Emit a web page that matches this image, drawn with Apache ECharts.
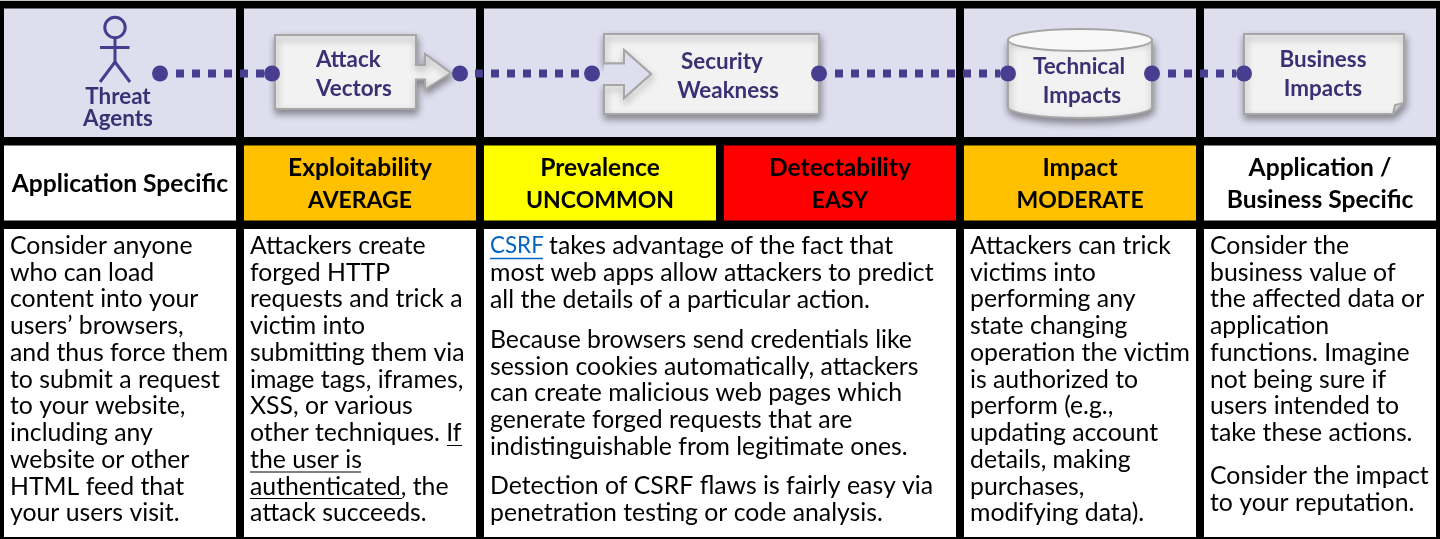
<!DOCTYPE html>
<html>
<head>
    <meta charset="utf-8" />
    <title>CSRF risk</title>
    <script src="https://cdn.jsdelivr.net/npm/echarts@6/dist/echarts.min.js"></script>
    <style>
        html, body { margin: 0; padding: 0; background: #000; }
        #chart { width: 1440px; height: 539px; }
    </style>
</head>
<body>
    <div id="chart"></div>
    <script>
        // text of the table
        const stageLabels = [['Threat', 'Agents'], ['Attack', 'Vectors'], ['Security', 'Weakness'], ['Technical', 'Impacts'], ['Business', 'Impacts']];
        const ratingLabels = [
            ['Application Specific'],
            ['Exploitability', 'AVERAGE'],
            ['Prevalence', 'UNCOMMON'],
            ['Detectability', 'EASY'],
            ['Impact', 'MODERATE'],
            ['Application /', 'Business Specific']
        ];
        const threatText = ['Consider anyone', 'who can load', 'content into your', 'users\u2019 browsers,', 'and thus force them', 'to submit a request', 'to your website,', 'including any', 'website or other', 'HTML feed that', 'your users visit.'];
        const attackText = ['Attackers create', 'forged HTTP', 'requests and trick a', 'victim into', 'submitting them via', 'image tags, iframes,', 'XSS, or various', 'other techniques. If', 'the user is', 'authenticated, the', 'attack succeeds.'];
        const weaknessP1 = ['CSRF', 'most web apps allow attackers to predict', 'all the details of a particular action.'];
        const weaknessP2 = ['Because browsers send credentials like', 'session cookies automatically, attackers', 'can create malicious web pages which', 'generate forged requests that are', 'indistinguishable from legitimate ones.'];
        const weaknessP3 = ['Detection of CSRF flaws is fairly easy via', 'penetration testing or code analysis.'];
        const csrfRest = 'takes advantage of the fact that';
        const impactText = ['Attackers can trick', 'victims into', 'performing any', 'state changing', 'operation the victim', 'is authorized to', 'perform (e.g.,', 'updating account', 'details, making', 'purchases,', 'modifying data).'];
        const businessP1 = ['Consider the', 'business value of', 'the affected data or', 'application', 'functions. Imagine', 'not being sure if', 'users intended to', 'take these actions.'];
        const businessP2 = ['Consider the impact', 'to your reputation.'];

        // connector end points on the pixel axes
        const connectors = [[176, 264], [475, 584], [835, 1000], [1168, 1236]];
        const dots = [160, 272, 460, 592, 819, 1008, 1152, 1244];

        // layout
        const W = 1440, H = 539;
        const bodyFont = 24.8, headFont = 24.6, capsFont = 23, stageFont = 22.4;
        const lineH = 26.75;
        const fontFamily = 'Lato, sans-serif';
        const purple = '#483d8f', labelColor = '#3a3174', bandColor = '#dfdeef';
        const midY = 73.5;

        function textEl(x, y, text, font, weight, color, align) {
            return {
                type: 'text',
                style: {
                    x: x, y: y, text: text,
                    font: weight + ' ' + font + 'px ' + fontFamily,
                    fill: color,
                    align: align || 'left',
                    verticalAlign: 'middle'
                }
            };
        }
        function rectEl(c, x0, y0, x1, y1, fill) {
            const a = c(x0, y0), b = c(x1, y1);
            return { type: 'rect', shape: { x: a[0], y: a[1], width: b[0] - a[0], height: b[1] - a[1] }, style: { fill: fill } };
        }
        function lineEl(x1, y1, x2, y2, color, width) {
            return { type: 'line', shape: { x1: x1, y1: y1, x2: x2, y2: y2 }, style: { stroke: color, lineWidth: width } };
        }
        function polyEl(points, fill, stroke, shadow) {
            const el = { type: 'polygon', shape: { points: points }, style: { fill: fill, stroke: stroke, lineWidth: 2 } };
            if (shadow) Object.assign(el.style, boxShadow);
            return el;
        }
        const boxShadow = { shadowBlur: 7, shadowColor: 'rgba(0,0,0,0.4)', shadowOffsetX: 1, shadowOffsetY: 4 };

        function column(children, x, lines, startY) {
            lines.forEach(function (line, i) {
                children.push(textEl(x, startY + i * lineH, line, bodyFont, 'normal', '#000'));
            });
        }

        // the table cells, icons and texts
        function renderTable(params, api) {
            const c = function (x, y) { return api.coord([x, y]); };
            const kids = [];

            // top band
            kids.push(rectEl(c, 0, 0, W, 1, '#c4c4c4'));
            [[4, 236], [244, 476], [484, 956], [964, 1196], [1204, 1436]].forEach(function (s) {
                kids.push(rectEl(c, s[0], 8.5, s[1], 137, bandColor));
            });

            // rating row
            const ratingCols = [[4, 236, '#fff'], [244, 476, '#ffc000'], [484, 716, '#ffff00'], [724, 956, '#ff0000'], [964, 1196, '#ffc000'], [1204, 1436, '#fff']];
            ratingCols.forEach(function (s, i) {
                kids.push(rectEl(c, s[0], 145.5, s[1], 220.5, s[2]));
                const cx = (s[0] + s[1]) / 2;
                const lines = ratingLabels[i];
                if (lines.length === 1) {
                    kids.push(textEl(cx, 184.5, lines[0], headFont, 'bold', '#000', 'center'));
                } else {
                    // the second line is all capitals in the rated columns
                    const caps = lines[1] === lines[1].toUpperCase();
                    kids.push(textEl(cx, 168.5, lines[0], headFont, 'bold', '#000', 'center'));
                    kids.push(textEl(cx, 200.5, lines[1], caps ? capsFont : headFont, 'bold', '#000', 'center'));
                }
            });

            // text row
            [[4, 236], [244, 476], [484, 956], [964, 1196], [1204, 1436]].forEach(function (s) {
                kids.push(rectEl(c, s[0], 229, s[1], 537, '#fff'));
            });
            column(kids, 10, threatText, 246);
            column(kids, 250, attackText, 246);
            kids.push(textEl(490, 246, weaknessP1[0], 22.4, 'normal', '#0563c1'));
            kids.push(textEl(549, 246, csrfRest, bodyFont, 'normal', '#000'));
            column(kids, 490, weaknessP1.slice(1), 273);
            column(kids, 490, weaknessP2, 340);
            column(kids, 490, weaknessP3, 486);
            column(kids, 970, impactText, 246);
            column(kids, 1210, businessP1, 246);
            column(kids, 1210, businessP2, 476);

            kids.push(lineEl(490, 258.5, 543, 258.5, '#0563c1', 1.5));
            kids.push(lineEl(447, 445.5, 462, 445.5, '#000', 1));
            kids.push(lineEl(250, 472, 361, 472, '#000', 1));
            kids.push(lineEl(250, 498.5, 402, 498.5, '#000', 1));

            // threat agent figure
            kids.push({ type: 'circle', shape: { cx: 115, cy: 27.5, r: 10.2 }, style: { fill: 'none', stroke: purple, lineWidth: 3 } });
            kids.push(lineEl(115, 38, 115, 62, purple, 3));
            kids.push(lineEl(100, 47.5, 129.5, 47.5, purple, 3));
            kids.push(lineEl(115, 62, 100, 82, purple, 3));
            kids.push(lineEl(115, 62, 130, 82, purple, 3));
            kids.push(textEl(118, 96.5, stageLabels[0][0], stageFont, 'bold', labelColor, 'center'));
            kids.push(textEl(118, 118.5, stageLabels[0][1], stageFont, 'bold', labelColor, 'center'));

            // attack vectors box with arrow
            kids.push(polyEl([[275, 35], [416, 35], [416, 65], [425, 65], [425, 54], [451, 73], [425, 89.5], [425, 79.5], [416, 79.5], [416, 109], [275, 109]], '#f2f2f2', '#a6a6a6', true));
            kids.push(textEl(316, 60, stageLabels[1][0], stageFont, 'bold', labelColor));
            kids.push(textEl(316, 89, stageLabels[1][1], stageFont, 'bold', labelColor));

            // security weakness box with notch, the notch is repainted to drop the box shadow
            const notch = [[604, 63.5], [624, 63.5], [624, 50], [651, 74], [624, 98], [624, 85], [604, 85]];
            kids.push(polyEl([[604, 34], [819, 34], [819, 114], [604, 114], [604, 85], [624, 85], [624, 98], [651, 74], [624, 50], [624, 63.5], [604, 63.5]], '#f2f2f2', '#a6a6a6', true));
            kids.push({ type: 'polygon', shape: { points: notch }, style: { fill: bandColor } });
            kids.push({ type: 'polyline', shape: { points: notch }, style: { fill: 'none', stroke: '#a6a6a6', lineWidth: 2 } });
            kids.push(textEl(722, 62, stageLabels[2][0], stageFont, 'bold', labelColor, 'center'));
            kids.push(textEl(728, 91, stageLabels[2][1], stageFont, 'bold', labelColor, 'center'));

            // technical impacts cylinder
            kids.push({
                type: 'path',
                shape: { pathData: 'M1008 40 L1008 107 C1008 113 1040 118 1080 118 C1120 118 1152 113 1152 107 L1152 40 Z', x: 1008, y: 40, width: 144, height: 78 },
                style: Object.assign({ fill: '#f2f2f2', stroke: '#a6a6a6', lineWidth: 2 }, boxShadow)
            });
            kids.push({ type: 'ellipse', shape: { cx: 1080, cy: 40, rx: 72, ry: 11 }, style: { fill: '#f8f8f8', stroke: '#a6a6a6', lineWidth: 2 } });
            kids.push(textEl(1079, 67, stageLabels[3][0], stageFont, 'bold', labelColor, 'center'));
            kids.push(textEl(1082, 96, stageLabels[3][1], stageFont, 'bold', labelColor, 'center'));

            // business impacts note with folded corner
            kids.push(polyEl([[1244, 34], [1404, 34], [1404, 103], [1393, 114], [1244, 114]], '#f2f2f2', '#a6a6a6', true));
            kids.push(polyEl([[1404, 103], [1395, 105], [1393, 114]], '#d0d0d0', '#a6a6a6', false));
            kids.push(textEl(1323, 60, stageLabels[4][0], stageFont, 'bold', labelColor, 'center'));
            kids.push(textEl(1323, 89, stageLabels[4][1], stageFont, 'bold', labelColor, 'center'));

            return { type: 'group', children: kids };
        }

        const myChart = echarts.init(document.getElementById('chart'));

        const option = {
            animation: false,
            backgroundColor: '#000',
            grid: { left: 0, right: 0, top: 0, bottom: 0 },
            xAxis: { type: 'value', min: 0, max: W, show: false },
            yAxis: { type: 'value', min: 0, max: H, inverse: true, show: false },
            series: [
                {
                    type: 'custom',
                    coordinateSystem: 'cartesian2d',
                    data: [[0, 0]],
                    renderItem: renderTable,
                    clip: false,
                    z: 1
                }
            ].concat(connectors.map(function (c) {
                return {
                    type: 'line',
                    data: [[c[0], midY], [c[1], midY]],
                    symbol: 'none',
                    lineStyle: { color: purple, width: 8, type: [8, 8], cap: 'butt' },
                    z: 5
                };
            })).concat([
                {
                    type: 'scatter',
                    data: dots.map(function (x) { return [x, midY]; }),
                    symbolSize: 16,
                    itemStyle: { color: purple, opacity: 1 },
                    z: 6
                }
            ])
        };

        myChart.setOption(option);
    </script>
</body>
</html>
